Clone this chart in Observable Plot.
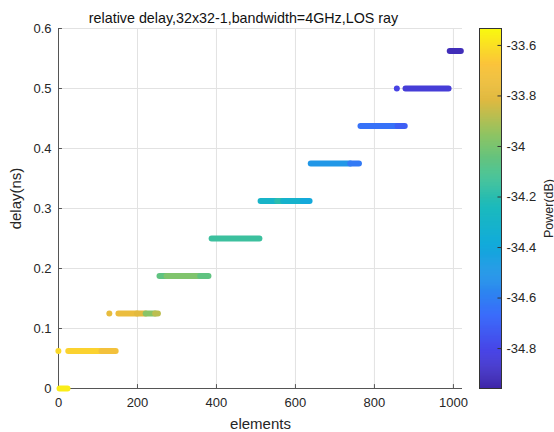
<!DOCTYPE html>
<html>
<head>
<meta charset="utf-8">
<script src="https://cdn.jsdelivr.net/npm/d3@7"></script>
<script src="https://cdn.jsdelivr.net/npm/@observablehq/plot@0.6"></script>
<style>
  html, body { margin: 0; padding: 0; background: #fff; }
  #chart { position: relative; width: 554px; height: 432px; font-family: "Liberation Sans", Arial, sans-serif; }
  #chart svg { position: absolute; top: 0; }
</style>
</head>
<body>
<div id="chart"></div>
<script>
const chartTitle = "relative delay,32x32-1,bandwidth=4GHz,LOS ray";
const xLabel = "elements";
const yLabel = "delay(ns)";
const colorLabel = "Power(dB)";

// Runs of consecutive array elements that fall into the same delay bin,
// with the received power of that run.
const runStart = [1, 4, 26, 110, 130, 153, 200, 222, 246, 257, 275, 360, 389, 513, 555, 570, 620, 640, 740, 766, 860, 858, 880, 992];
const runEnd   = [1, 24, 110, 146, 130, 200, 222, 246, 253, 275, 360, 381, 510, 555, 570, 620, 637, 740, 762, 860, 878, 858, 989, 1020];
const runDelay = [0.0625, 0, 0.0625, 0.0625, 0.125, 0.125, 0.125, 0.125, 0.125, 0.1875, 0.1875, 0.1875, 0.25, 0.3125, 0.3125, 0.3125, 0.3125, 0.375, 0.375, 0.4375, 0.4375, 0.5, 0.5, 0.5625];
const runPower = [-33.62, -33.57, -33.64, -33.72, -33.78, -33.76, -33.8, -33.97, -33.88, -34.06, -33.99, -34.06, -34.15, -34.3, -34.2, -34.32, -34.4, -34.5, -34.62, -34.65, -34.72, -34.82, -34.85, -34.92];

const xTicks = [0, 200, 400, 600, 800, 1000];
const yTicks = [0, 0.1, 0.2, 0.3, 0.4, 0.5, 0.6];
const powerTicks = [-34.8, -34.6, -34.4, -34.2, -34, -33.8, -33.6];
const powerDomain = [-34.958, -33.533];

// parula-style colormap stops
const parulaStops = ["#3e26a8", "#4844e6", "#3b6cfb", "#2592ea", "#12abda", "#1bbabd", "#4cc38e", "#8dc464", "#e0b940", "#fbc43a", "#f9fb0e"];
const parula = d3.piecewise(d3.interpolateRgb, parulaStops);

const runs = runStart.map((s, i) => ({start: s, end: runEnd[i], delay: runDelay[i], power: runPower[i]}));

const font = "'Liberation Sans', Arial, sans-serif";
const ink = "#262626";
const gridColor = "#e2e2e2";
const colorScale = {type: "linear", domain: powerDomain, interpolate: parula, clamp: true};

const main = Plot.plot({
  width: 554,
  height: 432,
  marginLeft: 58,
  marginRight: 92,
  marginTop: 28,
  marginBottom: 44,
  style: {fontFamily: font, fontSize: "13px", color: ink, background: "#fff", overflow: "visible"},
  x: {domain: [0, 1023]},
  y: {domain: [0, 0.6]},
  color: colorScale,
  marks: [
    Plot.gridX(xTicks.slice(1), {stroke: gridColor, strokeOpacity: 1}),
    Plot.gridY(yTicks.slice(1), {stroke: gridColor, strokeOpacity: 1}),
    Plot.axisX(xTicks, {tickSize: 0, tickPadding: 9, tickFormat: d => String(d), label: null, fontSize: 13}),
    Plot.axisY(yTicks, {tickSize: 0, tickPadding: 7, tickFormat: d => String(d), label: null, fontSize: 13}),
    Plot.ruleY([0], {stroke: "#555"}),
    Plot.ruleX([0], {stroke: "#555"}),
    Plot.ruleX(xTicks.slice(1), {x: d => d, y1: 0, y2: 0.0065, stroke: "#555"}),
    Plot.ruleY(yTicks.slice(1), {y: d => d, x1: 0, x2: 10, stroke: "#555"}),
    Plot.ruleY(runs, {x1: "start", x2: "end", y: "delay", stroke: "power", strokeWidth: 6, strokeLinecap: "round"}),
    Plot.text([chartTitle], {text: d => d, frameAnchor: "top", textAnchor: "middle", dx: -17, dy: -16, fontSize: 14.3, fill: "#111"}),
    Plot.text([xLabel], {text: d => d, frameAnchor: "bottom", textAnchor: "middle", dy: 40, fontSize: 15, fill: ink}),
    Plot.text([yLabel], {text: d => d, frameAnchor: "left", textAnchor: "middle", dx: -42, dy: -10, rotate: -90, fontSize: 15, fill: ink})
  ]
});

// vertical colour bar
const rampStep = 0.004;
const ramp = d3.range(powerDomain[0], powerDomain[1], rampStep);
const bar = Plot.plot({
  width: 75,
  height: 432,
  marginLeft: 0,
  marginRight: 53,
  marginTop: 28,
  marginBottom: 44,
  style: {fontFamily: font, fontSize: "13px", color: ink, background: "transparent", overflow: "visible"},
  x: {domain: [0, 1], axis: null},
  y: {domain: powerDomain},
  color: colorScale,
  marks: [
    Plot.rect(ramp, {x1: 0, x2: 1, y1: d => d, y2: d => Math.min(powerDomain[1], d + rampStep * 1.6), fill: d => d}),
    Plot.frame({stroke: "#333"}),
    Plot.ruleY(powerTicks, {y: d => d, x1: 0.84, x2: 1, stroke: "#333"}),
    Plot.axisY(powerTicks, {anchor: "right", tickSize: 0, tickPadding: 5, tickFormat: d => String(d), label: null, fontSize: 13}),
    Plot.text([colorLabel], {text: d => d, frameAnchor: "right", textAnchor: "middle", dx: 47, rotate: -90, fontSize: 12.5, fill: ink})
  ]
});
bar.style.left = "479px";

const root = document.getElementById("chart");
root.appendChild(main);
root.appendChild(bar);
</script>
</body>
</html>
